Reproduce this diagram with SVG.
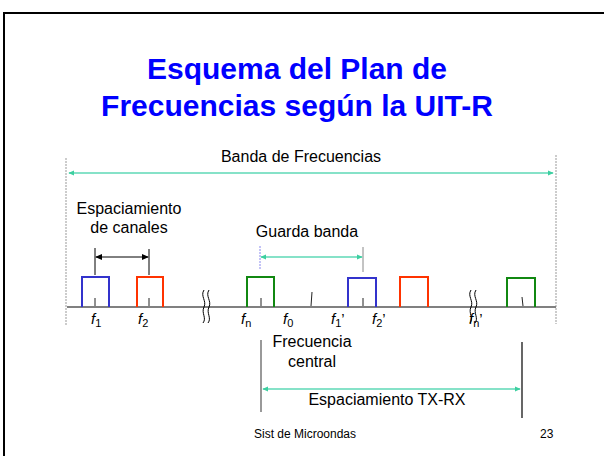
<svg xmlns="http://www.w3.org/2000/svg" width="604" height="456" viewBox="0 0 604 456">
<defs>
<marker id="ta" viewBox="0 0 8 8" refX="7" refY="4" markerWidth="6" markerHeight="6" orient="auto-start-reverse" markerUnits="userSpaceOnUse"><path d="M0,0.5 L8,4 L0,7.5 z" fill="#3CCFA0"/></marker>
<marker id="ka" viewBox="0 0 8 8" refX="7" refY="4" markerWidth="7" markerHeight="7" orient="auto-start-reverse" markerUnits="userSpaceOnUse"><path d="M0,0.5 L8,4 L0,7.5 z" fill="#000"/></marker>
</defs>
<style>
text{font-family:"Liberation Sans",Arial,sans-serif;fill:#000}
.title{font-size:30px;font-weight:bold;fill:#0000FF;text-anchor:middle}
.lbl{font-size:16px;text-anchor:middle}
.f{font-size:15px;font-style:italic}
.sub{font-size:11px;font-style:normal}
.foot{font-size:12px}
.teal{stroke:#5ED8B6;stroke-width:1.5;fill:none}
.ch{fill:none;stroke-width:2}
.tick{stroke:#222;stroke-width:1}
.dot{stroke:#999;stroke-width:1;stroke-dasharray:2,1;fill:none}
.sq{fill:none;stroke:#000;stroke-width:1}
</style>
<rect width="604" height="456" fill="#fff"/>
<rect x="4" y="13" width="620" height="460" fill="none" stroke="#000" stroke-width="2"/>
<text class="title" x="297" y="79">Esquema del Plan de</text>
<text class="title" x="297" y="116">Frecuencias según la UIT-R</text>

<g id="connectors">
<line class="dot" x1="66" y1="158" x2="66" y2="326"/>
<line class="dot" x1="556" y1="155" x2="556" y2="324"/>
<line class="teal" x1="69" y1="173" x2="553" y2="173" marker-start="url(#ta)" marker-end="url(#ta)"/>
<line stroke="#000" stroke-width="1" x1="95" y1="248" x2="95" y2="275"/>
<line stroke="#000" stroke-width="1" x1="149" y1="249" x2="149" y2="275"/>
<line stroke="#000" stroke-width="1" x1="96" y1="257" x2="148" y2="257" marker-start="url(#ka)" marker-end="url(#ka)"/>
<line stroke="#8888EE" stroke-width="1" stroke-dasharray="2,1" x1="260" y1="246" x2="260" y2="270"/>
<line stroke="#888" stroke-width="1" x1="363" y1="247" x2="363" y2="272"/>
<line class="teal" x1="261" y1="257" x2="362" y2="257" marker-start="url(#ta)" marker-end="url(#ta)"/>
<line stroke="#777" stroke-width="1.5" x1="261" y1="340" x2="261" y2="412"/>
<line stroke="#000" stroke-width="1.2" x1="522" y1="342" x2="522" y2="418"/>
<line class="teal" x1="263" y1="389" x2="520" y2="389" marker-start="url(#ta)" marker-end="url(#ta)"/>
</g>

<g id="axis">
<line x1="67" y1="307" x2="556" y2="307" stroke="#808080" stroke-width="2"/>
</g>

<g id="ch-f1"><path class="ch" stroke="#3333CC" d="M82,307 V277 H109 V307"/><line class="tick" x1="95" y1="298" x2="95" y2="306"/></g>
<g id="ch-f2"><path class="ch" stroke="#FF3300" d="M137,307 V277 H163 V307"/><line class="tick" x1="149" y1="298" x2="149" y2="306"/></g>
<g id="ch-fn"><path class="ch" stroke="#118811" d="M247,307 V277 H274 V307"/><line class="tick" x1="261" y1="298" x2="261" y2="306"/></g>
<g id="f0-tick"><line class="tick" x1="311" y1="306" x2="312" y2="292"/></g>
<g id="ch-f1p"><path class="ch" stroke="#3333CC" d="M348,307 V278 H376 V307"/><line class="tick" x1="363" y1="298" x2="363" y2="306"/></g>
<g id="ch-f2p"><path class="ch" stroke="#FF3300" d="M400,307 V277 H428 V307"/></g>
<g id="ch-fnp"><path class="ch" stroke="#118811" d="M507,307 V278 H535 V307"/><line class="tick" x1="522" y1="297" x2="523" y2="306"/></g>

<g id="breaks">
<path class="sq" d="M204,290 c-4,6 3,11 0,17 c-3,6 3,11 -1,16"/>
<path class="sq" d="M209,290 c-4,6 3,11 0,17 c-3,6 3,11 -1,16"/>
<path class="sq" d="M471,290 c-4,6 3,11 0,17 c-3,6 3,11 -1,16"/>
<path class="sq" d="M476,290 c-4,6 3,11 0,17 c-3,6 3,11 -1,16"/>
</g>

<g id="labels">
<text class="lbl" x="301" y="162">Banda de Frecuencias</text>
<text class="lbl" x="129" y="214">Espaciamiento</text>
<text class="lbl" x="129" y="233">de canales</text>
<text class="lbl" x="307" y="237">Guarda banda</text>
<text class="f" x="91" y="324">f<tspan class="sub" dy="3">1</tspan></text>
<text class="f" x="138" y="324">f<tspan class="sub" dy="3">2</tspan></text>
<text class="f" x="241" y="324">f<tspan class="sub" dy="3">n</tspan></text>
<text class="f" x="283" y="324">f<tspan class="sub" dy="3">0</tspan></text>
<text class="f" x="331" y="324">f<tspan class="sub" dy="3">1</tspan><tspan dy="-3" font-style="normal">’</tspan></text>
<text class="f" x="372" y="324">f<tspan class="sub" dy="3">2</tspan><tspan dy="-3" font-style="normal">’</tspan></text>
<text class="f" x="469" y="324">f<tspan class="sub" dy="3">n</tspan><tspan dy="-3" font-style="normal">’</tspan></text>
<text class="lbl" x="312" y="347">Frecuencia</text>
<text class="lbl" x="312" y="367">central</text>
<text class="lbl" x="387" y="405">Espaciamiento TX-RX</text>
<text class="foot" x="254" y="438">Sist de Microondas</text>
<text class="foot" x="540" y="438">23</text>
</g>
</svg>
